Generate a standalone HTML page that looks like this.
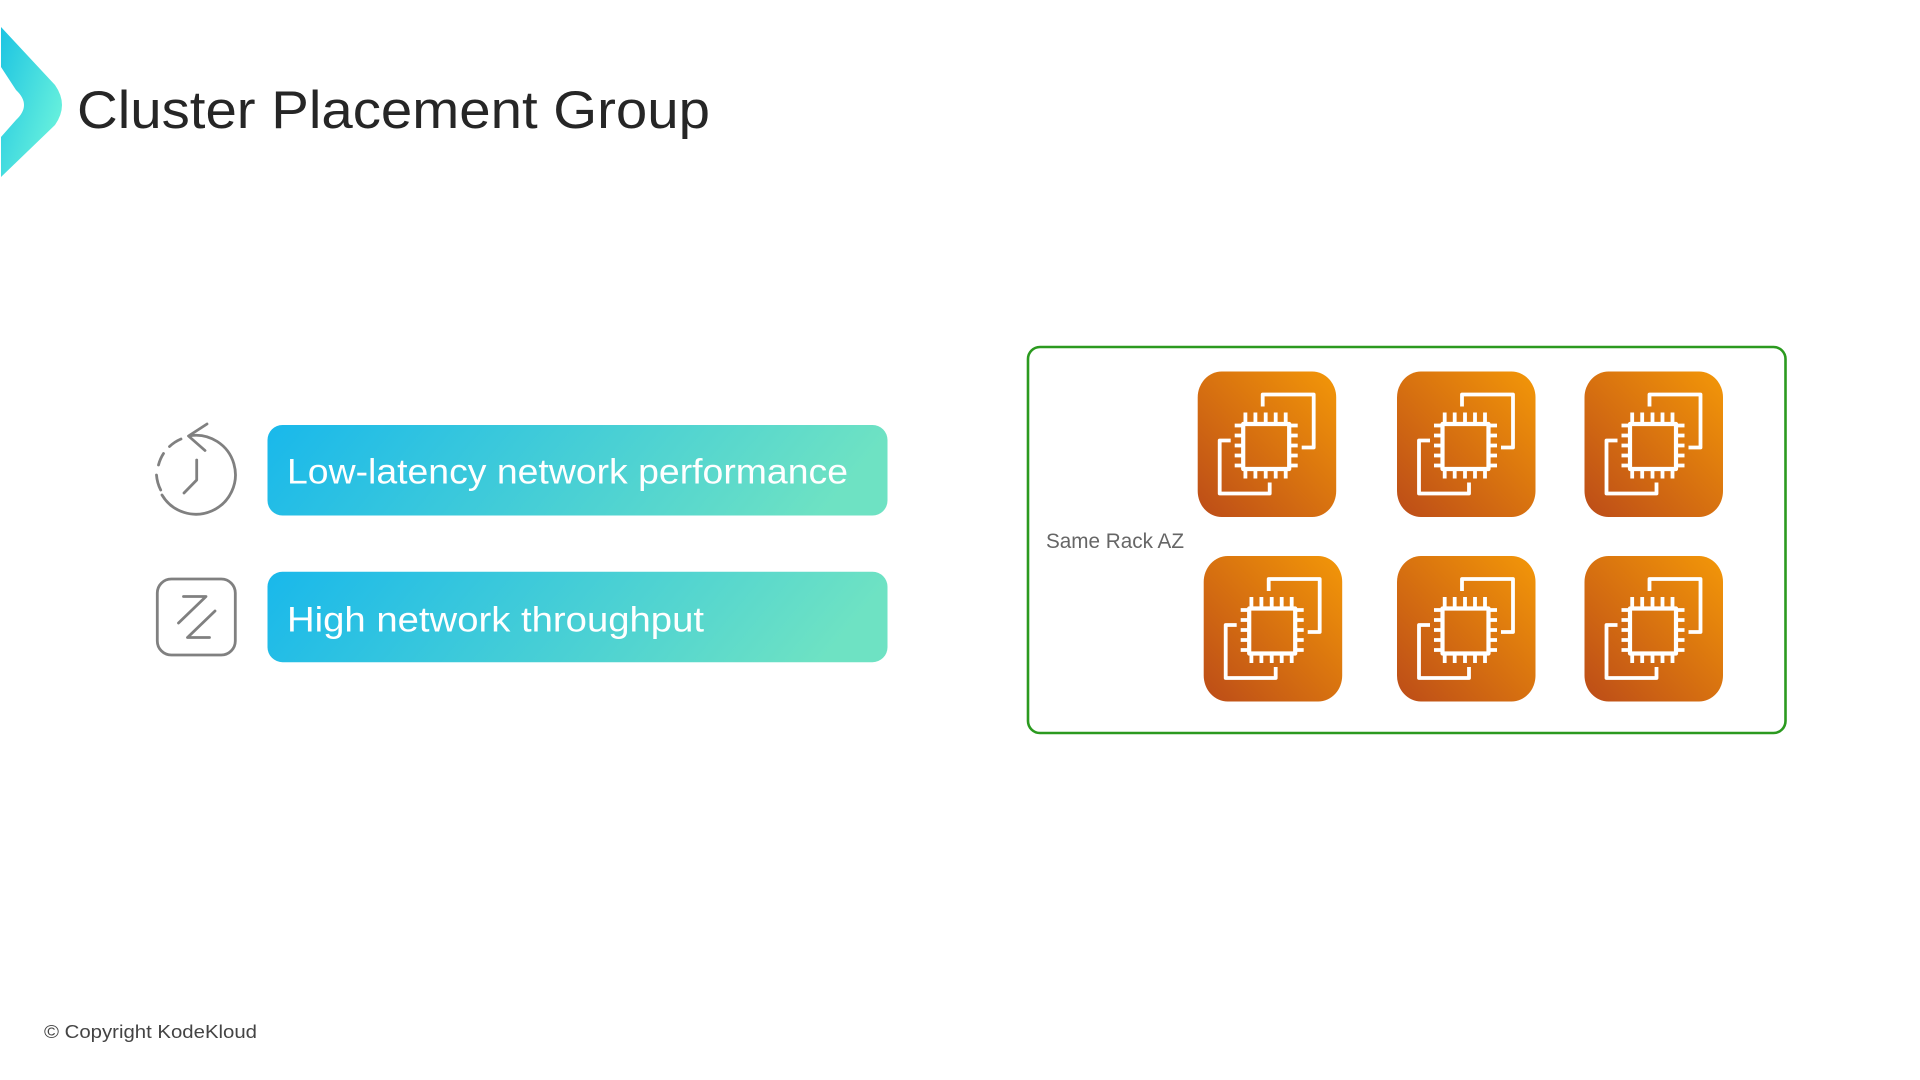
<!DOCTYPE html>
<html lang="en">
<head>
<meta charset="utf-8">
<title>Cluster Placement Group</title>
<style>
html,body{margin:0;padding:0;background:#fff;width:1920px;height:1080px;overflow:hidden}
svg{display:block}
text{font-family:"Liberation Sans",sans-serif}
</style>
</head>
<body>
<svg xmlns="http://www.w3.org/2000/svg" width="1920" height="1080" viewBox="0 0 1920 1080">
<defs>
<linearGradient id="chev" x1="0" y1="0" x2="1" y2="0.8">
<stop offset="0" stop-color="#1cc4e2"/><stop offset="1" stop-color="#6ff5dc"/>
</linearGradient>
<linearGradient id="pill" x1="0" y1="0" x2="1" y2="0.12">
<stop offset="0" stop-color="#19b8eb"/><stop offset="1" stop-color="#6ee2c3"/>
</linearGradient>
<linearGradient id="org" x1="0" y1="1" x2="1" y2="0">
<stop offset="0" stop-color="#bc4c18"/><stop offset="1" stop-color="#f39708"/>
</linearGradient>
<g id="ec2">
<rect x="0" y="0" width="138.5" height="145.5" rx="24" ry="26" fill="url(#org)"/>
<g fill="none" stroke="#fff" stroke-width="3.8" stroke-linejoin="round">
<path d="M65 35V23H116V76H104"/>
<path d="M33 69H22V122H72V111"/>
<rect x="45.5" y="52.5" width="46" height="45" stroke-width="4.2"/>
<path d="M47.7 41V51M57.7 41V51M68 41V51M78 41V51M88 41V51"/>
<path d="M47.7 99V107M57.7 99V107M68 99V107M78 99V107M88 99V107"/>
<path d="M37 54H44M37 64H44M37 74H44M37 84H44M37 94H44"/>
<path d="M93 54H100M93 64H100M93 74H100M93 84H100M93 94H100"/>
</g>
</g>
</defs>

<path d="M1 27L55 85Q69 105 55 125L1 177V137L16 120Q32 105 16 90L1 67Z" fill="url(#chev)"/>
<text x="77" y="128" font-size="53" fill="#262626" textLength="633" lengthAdjust="spacingAndGlyphs">Cluster Placement Group</text>

<rect x="267.5" y="425" width="620" height="90.5" rx="15" fill="url(#pill)"/>
<rect x="267.5" y="571.7" width="620" height="90.5" rx="15" fill="url(#pill)"/>
<text x="287" y="483.5" font-size="35" fill="#fff" textLength="561" lengthAdjust="spacingAndGlyphs">Low-latency network performance</text>
<text x="287" y="631.7" font-size="35" fill="#fff" textLength="417" lengthAdjust="spacingAndGlyphs">High network throughput</text>

<g fill="none" stroke="#808080" stroke-width="2.8" stroke-linecap="round" stroke-linejoin="round">
<path d="M190 435.7A39.5 39.5 0 1 1 162 495"/>
<path d="M160.7 490A39.5 39.5 0 0 1 156.5 475"/>
<path d="M158.5 465A39.5 39.5 0 0 1 163.5 453.5"/>
<path d="M169.5 446.5A39.5 39.5 0 0 1 181 439"/>
<path d="M207 424L188.5 436L205 450.5"/>
<path d="M196.7 460V480L184 493"/>
<rect x="157.3" y="579" width="78" height="76" rx="14"/>
<path d="M183.5 596.5H206L178.5 623"/>
<path d="M215 611L187.5 637.5H209.5"/>
</g>

<rect x="1028" y="347" width="757.5" height="386" rx="12" fill="#fff" stroke="#2b9a1f" stroke-width="2.6"/>
<text x="1046" y="548" font-size="21" fill="#666" textLength="138" lengthAdjust="spacingAndGlyphs">Same Rack AZ</text>

<use href="#ec2" x="1197.7" y="371.5"/>
<use href="#ec2" x="1397" y="371.5"/>
<use href="#ec2" x="1584.5" y="371.5"/>
<use href="#ec2" x="1203.7" y="556"/>
<use href="#ec2" x="1397" y="556"/>
<use href="#ec2" x="1584.5" y="556"/>

<text x="44" y="1038" font-size="18.5" fill="#444" textLength="213" lengthAdjust="spacingAndGlyphs">© Copyright KodeKloud</text>
</svg>
</body>
</html>
